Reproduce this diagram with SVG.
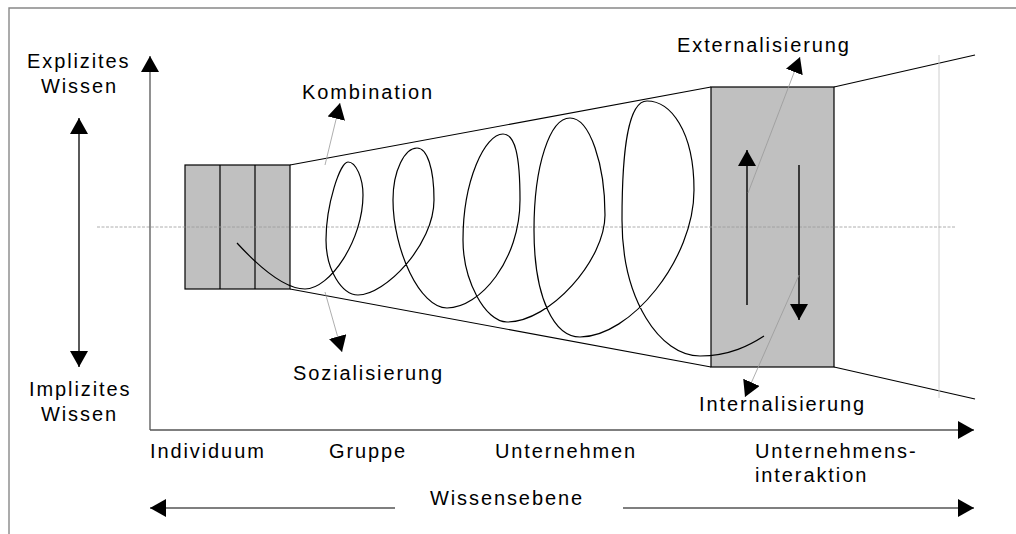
<svg xmlns="http://www.w3.org/2000/svg" width="1016" height="534" viewBox="0 0 1016 534">
<style>
  text { font-family: "Liberation Sans", Arial, sans-serif; font-size: 20px; fill: #000; letter-spacing: 1.9px; }
  .box { fill: #c0c0c0; stroke: #000; stroke-width: 1.2; }
  .edge { fill: none; stroke: #000; stroke-width: 1.2; }
  .axis { fill: none; stroke: #555; stroke-width: 1.3; }
  .ptr { fill: none; stroke: #999; stroke-width: 0.8; }
  .frame { fill: none; stroke: #888; stroke-width: 1.4; }
</style>
<defs>
  <marker id="ah" viewBox="0 0 16 18" refX="16" refY="9" markerWidth="16" markerHeight="18" markerUnits="userSpaceOnUse" orient="auto">
    <path d="M0,0 L16,9 L0,18 Z" fill="#000"/>
  </marker>
</defs>

<g id="frame">
  <path class="frame" d="M9,534 L9,8 L1016,8"/>
</g>

<g id="individuum-box">
  <rect class="box" x="185" y="165" width="105" height="124"/>
  <line class="edge" x1="220" y1="165" x2="220" y2="289"/>
  <line class="edge" x1="255" y1="165" x2="255" y2="289"/>
</g>

<g id="interaktion-box">
  <rect class="box" x="711" y="87" width="123" height="280"/>
</g>

<g id="funnel">
  <path class="edge" d="M290,165 L711,87 M290,289 L711,367 M834,87 L975,55 M834,367 L975,399"/>
  <line x1="939" y1="55" x2="939" y2="398" stroke="#c8c8c8" stroke-width="0.9"/>
  <line x1="97" y1="227" x2="956" y2="227" stroke="#999" stroke-width="0.8" stroke-dasharray="3,1.5"/>
</g>

<g id="spiral">
  <path class="edge" d="M237,243 C260,268 285,289 305,289 C330,289 363,240 363,195 C363,178 356,162 348,162 C340,162 326,205 326,240 C326,270 342,295 358,295 C385,295 434,245 434,200 C434,168 427,148 417,148 C405,148 393,170 393,200 C393,250 420,308 447,308 C480,308 520,260 520,200 C520,155 515,134 503,134 C485,134 463,180 463,240 C463,280 485,322 507,322 C550,322 605,260 605,215 C605,165 590,118 570,118 C550,118 534,165 534,230 C534,300 555,337 580,337 C630,337 694,260 694,190 C694,130 670,101 647,101 C628,101 622,150 622,220 C622,300 660,356 700,356 C730,356 750,345 764,336"/>
</g>

<g id="connectors">
  <line class="axis" x1="150" y1="430" x2="150" y2="56" marker-end="url(#ah)"/>
  <line class="axis" x1="150" y1="430" x2="974" y2="430" marker-end="url(#ah)"/>
  <line x1="79" y1="240" x2="79" y2="118" stroke="#000" stroke-width="1.3" marker-end="url(#ah)"/>
  <line x1="79" y1="240" x2="79" y2="367" stroke="#000" stroke-width="1.3" marker-end="url(#ah)"/>
  <line class="axis" x1="395" y1="508" x2="150" y2="508" marker-end="url(#ah)"/>
  <line class="axis" x1="623" y1="508" x2="974" y2="508" marker-end="url(#ah)"/>
  <line x1="747" y1="305" x2="747" y2="150" stroke="#000" stroke-width="1.4" marker-end="url(#ah)"/>
  <line x1="799" y1="165" x2="799" y2="320" stroke="#000" stroke-width="1.4" marker-end="url(#ah)"/>
  <line class="ptr" x1="325" y1="165" x2="340" y2="103" marker-end="url(#ah)"/>
  <line class="ptr" x1="325" y1="292" x2="342" y2="352" marker-end="url(#ah)"/>
  <line class="ptr" x1="748" y1="193" x2="800" y2="57" marker-end="url(#ah)"/>
  <line class="ptr" x1="799" y1="275" x2="745" y2="397" marker-end="url(#ah)"/>
</g>

<g id="labels">
  <text x="27" y="68">Explizites</text>
  <text x="41" y="93">Wissen</text>
  <text x="29" y="396">Implizites</text>
  <text x="41" y="421">Wissen</text>
  <text x="302" y="99">Kombination</text>
  <text x="293" y="380">Sozialisierung</text>
  <text x="677" y="52">Externalisierung</text>
  <text x="699" y="411">Internalisierung</text>
  <text x="150" y="458">Individuum</text>
  <text x="329" y="458">Gruppe</text>
  <text x="495" y="458">Unternehmen</text>
  <text x="755" y="458">Unternehmens-</text>
  <text x="755" y="482">interaktion</text>
  <text x="430" y="505">Wissensebene</text>
</g>
</svg>
